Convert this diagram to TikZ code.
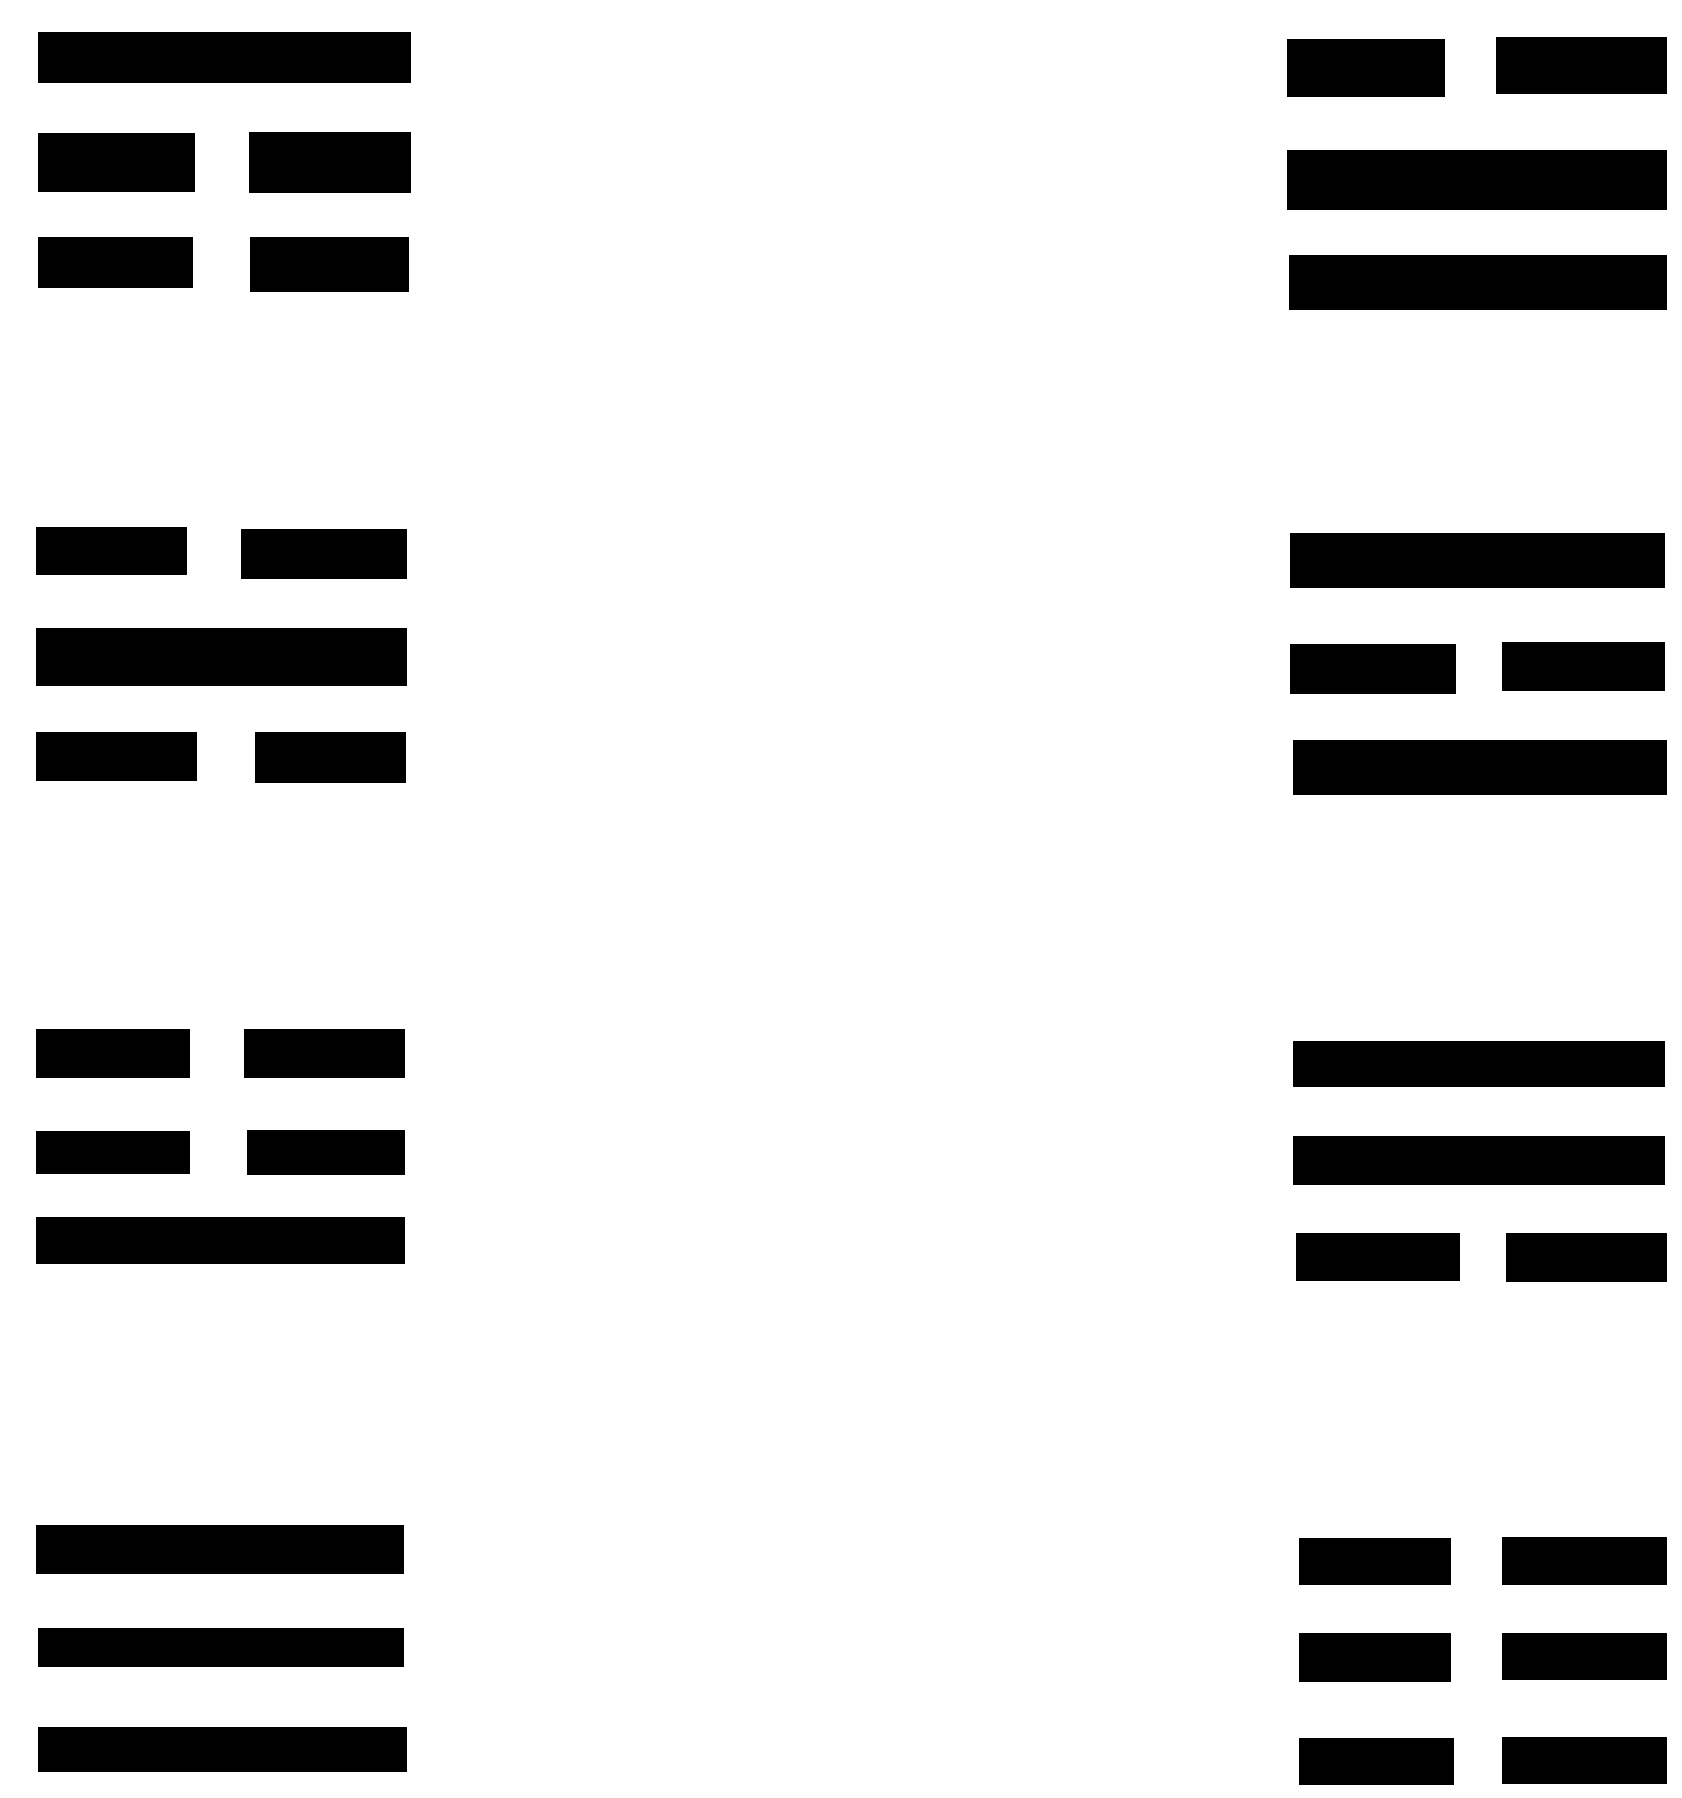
\documentclass[tikz,border=0pt]{standalone}
\begin{document}
\begin{tikzpicture}[x=0.01cm,y=-0.01cm, bar/.style={fill=black,draw=none}]
\useasboundingbox (0,0) rectangle (1466,1568);
% Left column
% Trigram 1
\fill[bar] (33,28) rectangle (358,72);
\fill[bar] (33,116) rectangle (170,167);
\fill[bar] (217,115) rectangle (358,168);
\fill[bar] (33,207) rectangle (168,251);
\fill[bar] (218,207) rectangle (357,255);
% Trigram 2
\fill[bar] (31,460) rectangle (163,501);
\fill[bar] (210,461) rectangle (355,505);
\fill[bar] (31,548) rectangle (355,598);
\fill[bar] (31,638) rectangle (172,681);
\fill[bar] (222,638) rectangle (354,683);
% Trigram 3
\fill[bar] (31,897) rectangle (166,940);
\fill[bar] (213,897) rectangle (353,940);
\fill[bar] (31,986) rectangle (166,1024);
\fill[bar] (215,985) rectangle (353,1025);
\fill[bar] (31,1061) rectangle (353,1102);
% Trigram 4
\fill[bar] (31,1330) rectangle (352,1373);
\fill[bar] (33,1420) rectangle (352,1454);
\fill[bar] (33,1506) rectangle (355,1545);
% Right column
% Trigram 5
\fill[bar] (1122,34) rectangle (1260,85);
\fill[bar] (1305,32) rectangle (1454,82);
\fill[bar] (1122,131) rectangle (1454,183);
\fill[bar] (1124,222) rectangle (1454,270);
% Trigram 6
\fill[bar] (1125,465) rectangle (1452,513);
\fill[bar] (1125,562) rectangle (1270,605);
\fill[bar] (1310,560) rectangle (1452,603);
\fill[bar] (1128,645) rectangle (1454,693);
% Trigram 7
\fill[bar] (1128,908) rectangle (1452,948);
\fill[bar] (1128,991) rectangle (1452,1033);
\fill[bar] (1130,1075) rectangle (1273,1117);
\fill[bar] (1313,1075) rectangle (1454,1118);
% Trigram 8
\fill[bar] (1133,1341) rectangle (1265,1382);
\fill[bar] (1310,1340) rectangle (1454,1382);
\fill[bar] (1133,1424) rectangle (1265,1467);
\fill[bar] (1310,1424) rectangle (1454,1465);
\fill[bar] (1133,1516) rectangle (1268,1557);
\fill[bar] (1310,1515) rectangle (1454,1556);
\end{tikzpicture}
\end{document}
